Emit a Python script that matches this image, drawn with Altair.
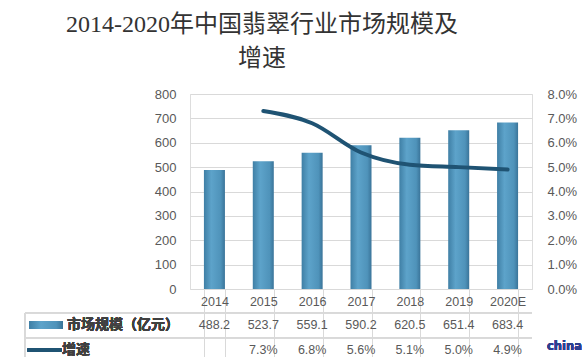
import altair as alt
import pandas as pd

years = ["2014", "2015", "2016", "2017", "2018", "2019", "2020E"]
market = [488.2, 523.7, 559.1, 590.2, 620.5, 651.4, 683.4]
growth_pct = [None, 7.3, 6.8, 5.6, 5.1, 5.0, 4.9]

title_lines = ["2014-2020年中国翡翠行业市场规模及", "增速"]
row1_label = "市场规模（亿元）"
row2_label = "增速"
watermark = "china"

df = pd.DataFrame({
    "year": years,
    "market": market,
    "growth": [g / 100 if g is not None else None for g in growth_pct],
})
df["market_txt"] = [f"{v:.1f}" for v in market]
df["growth_txt"] = [f"{g:.1f}%" if g is not None else "" for g in growth_pct]

W, H = 342, 195
GRID = "#D9D9D9"
LABEL = "#595959"
LINE = "#1F5373"
NUMFONT = "Liberation Sans"
CJK = "Noto Sans CJK SC"

bar_fill = alt.Gradient(
    gradient="linear",
    stops=[alt.GradientStop(color="#3F7FA5", offset=0),
           alt.GradientStop(color="#5DA3CA", offset=0.35),
           alt.GradientStop(color="#4F93BA", offset=0.8),
           alt.GradientStop(color="#3A7499", offset=1)],
    x1=0, x2=1, y1=0, y2=0,
)

xenc = alt.X(
    "year:N", sort=years,
    scale=alt.Scale(paddingInner=0.57, paddingOuter=0.285),
    axis=alt.Axis(title=None, tickBand="extent", tickSize=68, tickColor=GRID,
                  tickWidth=1, domain=False, grid=False, labelAngle=0,
                  labelPadding=-62, labelFontSize=12.5, labelColor=LABEL,
                  labelFont=NUMFONT),
)
xplain = alt.X("year:N", sort=years)

bars = alt.Chart(df).mark_bar(fill=bar_fill).encode(
    x=xenc,
    y=alt.Y("market:Q", scale=alt.Scale(domain=[0, 800]),
            axis=alt.Axis(values=list(range(0, 801, 100)), title=None,
                          domain=False, ticks=False, gridColor=GRID,
                          labelPadding=14, labelColor=LABEL, labelFontSize=13,
                          labelFont=NUMFONT)),
)

line = alt.Chart(df).mark_line(interpolate="monotone", color=LINE,
                               strokeWidth=4, strokeCap="round").encode(
    x=xplain,
    y=alt.Y("growth:Q", scale=alt.Scale(domain=[0, 0.08]),
            axis=alt.Axis(orient="right", format=".1%",
                          values=[i / 100 for i in range(0, 9)], title=None,
                          grid=False, domain=False, ticks=False,
                          labelPadding=15, labelColor=LABEL, labelFontSize=13,
                          labelFont=NUMFONT)),
)

row1 = alt.Chart(df).mark_text(fontSize=12.5, font=NUMFONT, color=LABEL).encode(
    x=xplain, y=alt.value(231), text="market_txt:N")
row2 = alt.Chart(df).mark_text(fontSize=12.5, font=NUMFONT, color=LABEL).encode(
    x=xplain, y=alt.value(256), text="growth_txt:N")

hr1 = alt.Chart(df).mark_rule(color=GRID, strokeWidth=1).encode(
    x=alt.value(-165), x2=alt.value(W), y=alt.value(219))
hr2 = alt.Chart(df).mark_rule(color=GRID, strokeWidth=1).encode(
    x=alt.value(-165), x2=alt.value(W), y=alt.value(244))
vl = alt.Chart(df).mark_rule(color=GRID, strokeWidth=1).encode(
    x=alt.value(-165), y=alt.value(219), y2=alt.value(265))

sw1 = alt.Chart(df).mark_rect(fill=bar_fill).encode(
    x=alt.value(-161), x2=alt.value(-127), y=alt.value(227), y2=alt.value(235))
sw2 = alt.Chart(df).mark_rule(color=LINE, strokeWidth=4, strokeCap="round").encode(
    x=alt.value(-161), x2=alt.value(-130), y=alt.value(256))

lab1 = alt.Chart(df).mark_text(align="left", fontSize=14, font=CJK,
                               fontWeight="bold", color="#404040").encode(
    x=alt.value(-123), y=alt.value(231), text=alt.value(row1_label))
lab2 = alt.Chart(df).mark_text(align="left", fontSize=14, font=CJK,
                               fontWeight="bold", color="#404040").encode(
    x=alt.value(-128), y=alt.value(256), text=alt.value(row2_label))

wm = alt.Chart(df).mark_text(align="left", fontSize=11.5, font="DejaVu Sans",
                             fontWeight="bold", color="#2E3F8F").encode(
    x=alt.value(357), y=alt.value(253), text=alt.value(watermark))

chart = alt.layer(bars, line, row1, row2, hr1, hr2, vl, sw1, sw2, lab1, lab2, wm).resolve_scale(
    y="independent"
).properties(
    width=W, height=H,
    autosize="none",
    padding={"left": 190, "top": 94, "right": 51, "bottom": 68},
    title=alt.TitleParams(title_lines, font="Liberation Serif, Noto Sans CJK SC",
                          fontSize=24, fontWeight="normal", color="#333333",
                          anchor="middle", frame="group", dx=-99, offset=17,
                          lineHeight=34),
).configure_view(stroke=None).configure(background="white")

chart.save("out.html", embed_options={"renderer": "svg", "actions": False})
